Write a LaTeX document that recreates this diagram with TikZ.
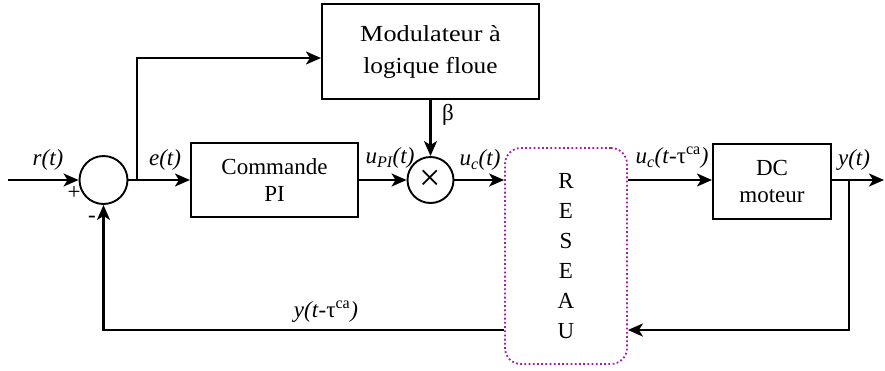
\documentclass[tikz,border=0pt]{standalone}
\usepackage{fontspec}
\usepackage{graphicx}
\setmainfont{Liberation Serif}
\usetikzlibrary{arrows.meta,calc}
\definecolor{netc}{RGB}{160,30,170}
\begin{document}
\begin{tikzpicture}[x=1pt,y=-1pt,
  every node/.style={font=\fontsize{23}{27}\selectfont},
  blk/.style={draw,line width=2.1pt,inner sep=0pt,align=center},
  op/.style={draw,circle,line width=1.9pt,inner sep=0pt},
  wire/.style={line width=2.1pt},
  arr/.style={wire,-{Stealth[length=15pt,width=13pt,inset=4pt]}},
  lbl/.style={inner sep=0pt},
  netbox/.style={draw=netc,line width=1.8pt,dash pattern=on 1.8pt off 2.4pt,rounded corners=16pt,
    minimum width=122pt,minimum height=216pt,align=center,inner sep=0pt,font=\fontsize{23}{30}\selectfont}
]
\useasboundingbox (0,0) rectangle (885,370);

% blocks
\node[blk,minimum width=217pt,minimum height=95pt] (mod) at (430.5,51.5)
  {\scalebox{1.14}[1]{Modulateur à}\\[5pt]\scalebox{1.1}[1]{logique floue}};
\node[blk,minimum width=167pt,minimum height=74pt] (pi) at (274.5,180) {Commande\\PI};
\node[blk,minimum width=118pt,minimum height=75pt] (dc) at (772,181.5) {DC\\moteur};
\node[op,minimum size=48pt] (sum) at (103.5,180) {};
\node[op,minimum size=46pt] (mul) at (430.5,180) {\fontsize{38}{38}\selectfont ×};
\node[netbox] (net) at (566,256) {R\\E\\S\\E\\A\\U};

% coordinates
\coordinate (in) at (8,180);
\coordinate (br) at (137,180);
\coordinate (tp) at (137,58);
\coordinate (out) at (884,180);
\coordinate (ybr) at (849,180);
\coordinate (ybot) at (849,330);

% connectors
\draw[arr] (in) -- (sum.west);
\draw[arr] (sum.east) -- (pi.west |- sum.east);
\draw[arr] (br) -- (tp) -- (tp -| mod.west);
\draw[arr] (pi.east) -- (mul.west);
\draw[arr] (mod.south) -- (mul.north);
\draw[arr] (mul.east) -- (mul.east -| net.west);
\draw[arr] (net.east |- mul) -- (dc.west |- mul);
\draw[arr] (dc.east |- mul) -- (out);
\draw[arr] (ybr) -- (ybot) -- (ybot -| net.east);
\draw[arr] (ybot -| net.west) -- (sum |- ybot) -- (sum.south);

% labels
\node[lbl] (lr) at (48,160) {\textit{r(t)}};
\node[lbl] (lp) at (74,193) {+};
\node[lbl] (lm) at (92,219) {-};
\node[lbl] (le) at (165,160) {\textit{e(t)}};
\node[lbl] (lupi) at (390,158) {\textit{u\textsubscript{PI}(t)}};
\node[lbl] (lb) at (448,115) {β};
\node[lbl] (luc) at (480,160) {\textit{u}\textsubscript{\textit{c}}\textit{(t)}};
\node[lbl] (lucd) at (672,158) {\textit{u}\textsubscript{\textit{c}}\textit{(t}-τ\textsuperscript{ca}\textit{)}};
\node[lbl] (ly) at (854,160) {\textit{y(t)}};
\node[lbl] (lyd) at (326,312) {\textit{y(t}-τ\textsuperscript{ca}\textit{)}};
\end{tikzpicture}
\end{document}
